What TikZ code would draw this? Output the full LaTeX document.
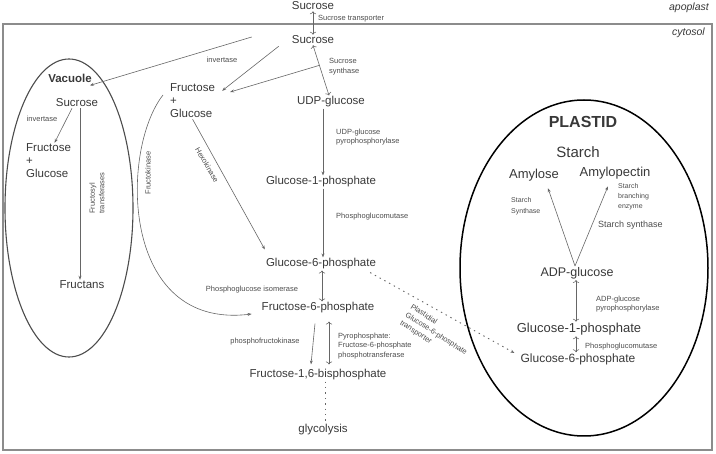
\documentclass[tikz,border=0pt]{standalone}
\usepackage{fontspec}
\setmainfont{Liberation Sans}
\usetikzlibrary{shapes.geometric,arrows.meta,calc}

\tikzset{
  met/.style={font=\fontsize{11.5}{13}\selectfont, text=black!78, inner sep=1pt},
  big/.style={font=\fontsize{13}{15}\selectfont, text=black!78, inner sep=1pt},
  enz/.style={font=\fontsize{7.5}{9.6}\selectfont, text=black!70, inner sep=1pt},
  arr/.style={-{Stealth[length=4pt,width=3pt]}, draw=black!60, line width=0.6pt},
  dotarr/.style={arr, dash pattern=on 1.4pt off 4pt, line width=0.9pt},
  compart/.style={draw, ellipse, inner sep=0pt}
}

\begin{document}
\begin{tikzpicture}[x=1pt,y=-1pt]
  \useasboundingbox (0,0) rectangle (716,454);

  % cell border
  \draw[black!45, line width=1.6pt] (3,24) rectangle (712,450);
  \node[met, anchor=east, font=\itshape\fontsize{10.5}{12}\selectfont] (apo) at (710,8) {apoplast};
  \node[met, anchor=east, font=\itshape\fontsize{10.5}{12}\selectfont] (cyt) at (706,33) {cytosol};

  % Sucrose import
  \node[met] (sucApo) at (313,6) {Sucrose};
  \node[met] (sucCyt) at (313,40) {Sucrose};
  \node[enz, anchor=west] (transp) at (317,19) {Sucrose transporter};
  \draw[arr, <->] (sucApo) -- (sucCyt);

  % Vacuole
  \node[compart, draw=black!70, line width=1.1pt, minimum width=128pt, minimum height=298pt] (vac) at (69,208) {};
  \node[met, font=\bfseries\fontsize{11.5}{13}\selectfont] (vacLbl) at (70,78) {Vacuole};
  \node[met] (vacSuc) at (77,103) {Sucrose};
  \node[enz] (vacInv) at (42,119) {invertase};
  \node[met, anchor=west, align=left] (vacFG) at (25,161) {Fructose\\+\\Glucose};
  \node[met] (fructans) at (82,285) {Fructans};
  \node[enz, rotate=90, align=left] (fructosyl) at (97,193) {Fructosyl\\transferases};
  \draw[arr] ([xshift=-5pt]vacSuc.south) -- ([xshift=6pt]vacFG.north);
  \draw[arr] ([xshift=3pt]vacSuc.south) -- ([xshift=-2pt]fructans.north);

  % Cytosol
  \node[met, anchor=west, align=left] (fg) at (169,101) {Fructose\\+\\Glucose};
  \node[met] (udpg) at (331,102) {UDP-glucose};
  \node[met] (g1p) at (321,182) {Glucose-1-phosphate};
  \node[met] (g6p) at (321,264) {Glucose-6-phosphate};
  \node[met] (f6p) at (318,308) {Fructose-6-phosphate};
  \node[met] (fbp) at (318,375) {Fructose-1,6-bisphosphate};
  \node[met] (glyc) at (323,430) {glycolysis};

  \node[enz] (inv) at (222,60) {invertase};
  \node[enz, anchor=north west, align=left] (susy) at (328,57) {Sucrose\\synthase};
  \node[enz, anchor=west, align=left] (ugpase) at (335,137) {UDP-glucose\\pyrophosphorylase};
  \node[enz, anchor=west] (pgm) at (335,217) {Phosphoglucomutase};
  \node[enz, rotate=-60] (hxk) at (207,165) {Hexokinase};
  \node[enz, rotate=90] (frk) at (148,173) {Fructokinase};
  \node[enz] (pgi) at (252,290) {Phosphoglucose isomerase};
  \node[enz] (pfk) at (265,342) {phosphofructokinase};
  \node[enz, anchor=west, align=left] (pfp) at (337,346) {Pyrophosphate:\\Fructose-6-phosphate\\phosphotransferase};
  \node[enz, rotate=-33, align=left] (gpt) at (436,334) {Plastidial\\Glucose-6-phosphate\\transporter};

  \coordinate (ssMid) at ($(sucCyt.south)!0.4!([xshift=-2pt]udpg.north)$);
  \draw[arr] ([shift={(-39,-3)}]sucCyt.west) -- ([xshift=-3pt,yshift=-2pt]vacLbl.south east);
  \draw[arr] ([xshift=-12pt,yshift=-1pt]sucCyt.south west) -- ([xshift=6pt,yshift=-8pt]fg.north east);
  \draw[arr, <->] (sucCyt.south) -- ([xshift=-2pt]udpg.north);
  \draw[arr] (ssMid) -- ([xshift=14pt,yshift=9pt]fg.east);
  \draw[arr] ([xshift=-6pt,yshift=6pt]fg.west) .. controls (120,150) and (120,330) .. ([xshift=-9pt,yshift=-6pt]f6p.west);
  \draw[arr] (fg.south) -- ([yshift=8pt]g6p.north west);
  \draw[arr] ([xshift=-8pt]udpg.south) -- ([xshift=2pt]g1p.north);
  \draw[arr] ([xshift=2pt]g1p.south) -- ([xshift=2pt]g6p.north);
  \draw[arr, <->] ([xshift=1pt]g6p.south) -- ([xshift=4pt]f6p.north);
  \draw[arr] ([xshift=-3pt,yshift=-9pt]f6p.south) -- ([xshift=-7pt,yshift=4pt]fbp.north);
  \draw[arr, <->] ([xshift=11pt,yshift=-7pt]f6p.south) -- ([xshift=11pt,yshift=4pt]fbp.north);
  \draw[dotarr, -] ([xshift=7pt]fbp.south) -- ([xshift=2pt]glyc.north);

  % Plastid
  \node[compart, draw=black, line width=1.5pt, minimum width=248pt, minimum height=336pt] (plas) at (584,268) {};
  \node[met, font=\bfseries\fontsize{16}{18}\selectfont] (plasLbl) at (583,122) {PLASTID};
  \node[met, font=\fontsize{15}{17}\selectfont] (starch) at (578,152) {Starch};
  \node[big] (amylose) at (534,175) {Amylose};
  \node[big] (amylopec) at (615,173) {Amylopectin};
  \node[big, font=\fontsize{12.5}{15}\selectfont] (adpg) at (577,273) {ADP-glucose};
  \node[big] (pG1p) at (579,329) {Glucose-1-phosphate};
  \node[met, font=\fontsize{12}{14}\selectfont] (pG6p) at (578,359) {Glucose-6-phosphate};

  \node[enz, anchor=north west, align=left, font=\fontsize{7}{11}\selectfont] (ss1) at (510,196) {Starch\\Synthase};
  \node[enz, anchor=north west, align=left, font=\fontsize{7}{10}\selectfont] (sbe) at (617,182) {Starch\\branching\\enzyme};
  \node[enz, anchor=west, font=\fontsize{9}{11}\selectfont] (ss2) at (597,225) {Starch synthase};
  \node[enz, anchor=west, align=left] (agpase) at (595,304) {ADP-glucose\\pyrophosphorylase};
  \node[enz, anchor=west] (ppgm) at (584,347) {Phosphoglucomutase};

  \draw[arr] ([xshift=-2pt]adpg.north) -- ([xshift=14pt,yshift=-6pt]amylose.south);
  \draw[arr] ([xshift=-2pt]adpg.north) -- ([xshift=-7pt,yshift=-6pt]amylopec.south);
  \draw[arr, <->] ([xshift=-1pt]adpg.south) -- ([xshift=-3pt]pG1p.north);
  \draw[arr, <->] ([xshift=-3pt]pG1p.south) -- ([xshift=-2pt]pG6p.north);

  % G6P transport into the plastid
  \draw[dotarr] ([xshift=-7pt,yshift=-2pt]g6p.south east) -- ([xshift=-5pt,yshift=6pt]pG6p.west);
\end{tikzpicture}
\end{document}
